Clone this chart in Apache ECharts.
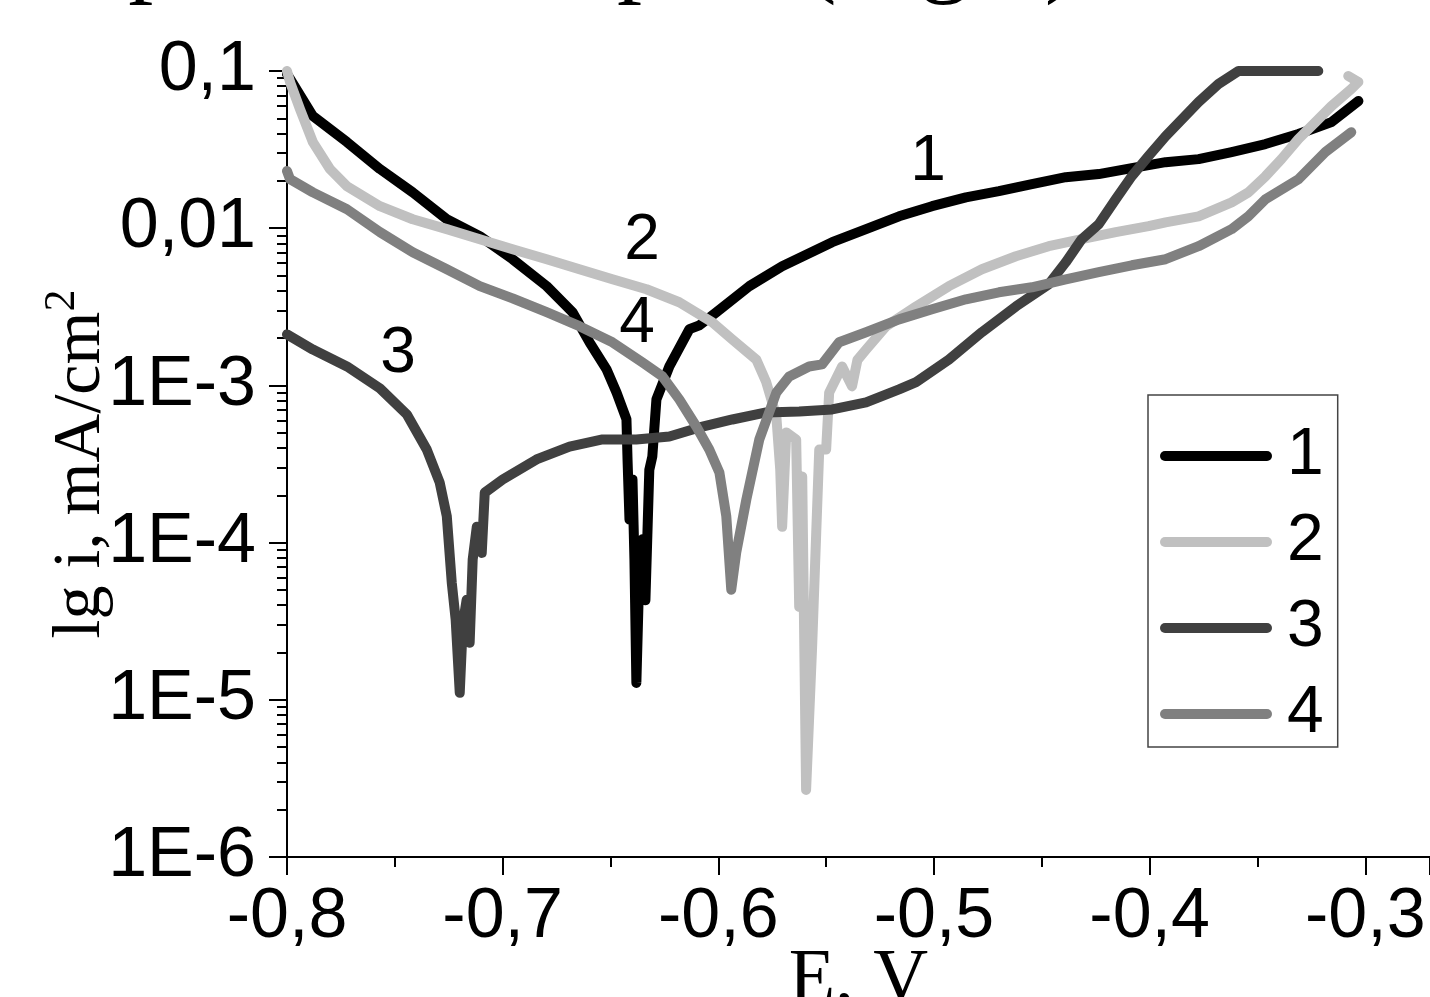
<!DOCTYPE html>
<html>
<head>
<meta charset="utf-8">
<title>lg i - E</title>
<script src="https://cdn.jsdelivr.net/npm/echarts@6/dist/echarts.min.js"></script>
<style>
html, body { margin: 0; padding: 0; background: #fff; }
#chart { width: 1430px; height: 997px; }
</style>
</head>
<body>
<div id="chart"></div>
<script>
// series names / colours
var curveNames = ['1', '2', '3', '4'];
var curveColors = ['#000000', '#c0c0c0', '#404040', '#808080'];

// [E, V ; i, mA/cm2]
var curve1 = [[-0.8,0.0957],[-0.7986,0.089],[-0.788,0.0517],[-0.7722,0.0353],[-0.7569,0.0238],[-0.7417,0.0169],
	[-0.7259,0.0114],[-0.7106,0.0089],[-0.6954,0.00635],[-0.6796,0.00428],[-0.6676,0.00292],[-0.6597,0.00188],
	[-0.6519,0.00127],[-0.6472,0.0009],[-0.6426,0.00061],[-0.6421,0.000338],[-0.6412,0.00014],[-0.6398,0.000252],
	[-0.6389,0.000078],[-0.638,0.0000128],[-0.6366,0.000067],[-0.6352,0.000105],[-0.6338,0.000043],[-0.632,0.00029],
	[-0.6306,0.000353],[-0.6287,0.000815],[-0.6227,0.00132],[-0.6134,0.00228],[-0.6088,0.00241],[-0.6009,0.00292],
	[-0.5856,0.00428],[-0.5704,0.00573],[-0.5472,0.00815],[-0.5315,0.00987],[-0.5162,0.0119],[-0.5009,0.0138],
	[-0.4852,0.0157],[-0.4699,0.0172],[-0.4546,0.0191],[-0.4389,0.0211],[-0.4236,0.0221],[-0.4083,0.0241],
	[-0.3926,0.0263],[-0.3773,0.0275],[-0.362,0.0305],[-0.3463,0.0343],[-0.331,0.0397],[-0.3157,0.0473],[-0.3032,0.0644]];

var curve2 = [[-0.8,0.1],[-0.7986,0.0851],[-0.794,0.0573],[-0.788,0.0353],[-0.7801,0.0238],[-0.7722,0.0185],
	[-0.7569,0.0138],[-0.7417,0.0114],[-0.7259,0.00986],[-0.7106,0.00851],[-0.6954,0.00735],[-0.6796,0.00635],
	[-0.6644,0.00548],[-0.6491,0.00473],[-0.6333,0.00409],[-0.6181,0.00338],[-0.6028,0.00252],[-0.5935,0.00196],
	[-0.5824,0.00146],[-0.5778,0.00105],[-0.5731,0.000635],[-0.5713,0.000292],[-0.5704,0.000126],[-0.5685,0.000502],
	[-0.5639,0.000453],[-0.5625,0.000039],[-0.5611,0.000263],[-0.5593,0.00000267],[-0.5565,0.0000218],[-0.5546,0.000116],
	[-0.5532,0.000391],[-0.55,0.000391],[-0.5486,0.0009],[-0.5426,0.00132],[-0.538,0.000986],[-0.5355,0.00145],
	[-0.5315,0.00169],[-0.5222,0.00238],[-0.5083,0.00318],[-0.4931,0.00428],[-0.4778,0.00548],[-0.462,0.00663],
	[-0.4468,0.00768],[-0.4315,0.00851],[-0.4157,0.00944],[-0.4005,0.0103],[-0.3926,0.0109],[-0.3773,0.0119],
	[-0.362,0.0146],[-0.3542,0.0169],[-0.3463,0.0214],[-0.3389,0.0275],[-0.331,0.0369],[-0.3231,0.0473],
	[-0.3157,0.0598],[-0.3065,0.0768],[-0.3032,0.0851],[-0.3079,0.0929]];

var curve3 = [[-0.8,0.00211],[-0.788,0.00169],[-0.7722,0.00132],[-0.7569,0.000957],[-0.7444,0.000653],[-0.7352,0.000391],
	[-0.7292,0.000241],[-0.7259,0.000147],[-0.7236,0.0000556],[-0.7218,0.0000324],[-0.7199,0.0000111],[-0.7185,0.00003],
	[-0.7167,0.0000433],[-0.7153,0.0000231],[-0.7139,0.000078],[-0.712,0.000126],[-0.7097,0.000086],[-0.7083,0.000208],
	[-0.7,0.000252],[-0.6843,0.000338],[-0.669,0.000408],[-0.6537,0.000453],[-0.638,0.000453],[-0.6227,0.000473],
	[-0.6088,0.00054],[-0.5935,0.000607],[-0.5778,0.000673],[-0.5625,0.000683],[-0.5472,0.000703],[-0.5315,0.000779],
	[-0.5162,0.000944],[-0.5083,0.00105],[-0.4931,0.00146],[-0.4778,0.00218],[-0.462,0.00318],[-0.4468,0.0044],
	[-0.4389,0.00607],[-0.4315,0.00851],[-0.4236,0.0106],[-0.4157,0.0153],[-0.4083,0.0214],[-0.4005,0.0288],
	[-0.3926,0.0385],[-0.3773,0.0635],[-0.3681,0.0826],[-0.3588,0.1],[-0.3218,0.1]];

var curve4 = [[-0.8,0.0231],[-0.7986,0.0205],[-0.788,0.0169],[-0.7722,0.0132],[-0.7569,0.00944],[-0.7417,0.00703],
	[-0.7259,0.00548],[-0.7106,0.00428],[-0.6954,0.00358],[-0.6796,0.00292],[-0.6644,0.00238],[-0.6491,0.00188],
	[-0.6352,0.0014],[-0.6259,0.00114],[-0.6181,0.000815],[-0.6102,0.000548],[-0.6042,0.000391],[-0.5995,0.000279],
	[-0.5963,0.000147],[-0.594,0.0000502],[-0.5917,0.0000863],[-0.587,0.000188],[-0.581,0.000453],[-0.5731,0.0009],
	[-0.5671,0.00114],[-0.5579,0.00132],[-0.5519,0.00136],[-0.544,0.00188],[-0.5315,0.00218],[-0.5162,0.00263],
	[-0.5009,0.00305],[-0.4852,0.00353],[-0.4699,0.00391],[-0.4546,0.00421],[-0.4389,0.00473],[-0.4236,0.00525],
	[-0.4083,0.00581],[-0.3926,0.00635],[-0.3773,0.00768],[-0.362,0.00986],[-0.3542,0.0119],[-0.3463,0.0153],
	[-0.331,0.0205],[-0.3185,0.0305],[-0.3065,0.0408]];

// where the numbers 1..4 sit next to the curves
var curveLabelPos = [[-0.5028,0.0263],[-0.6354,0.00826],[-0.7485,0.00157],[-0.6377,0.00245]];

// axis ticks
var xTickLabels = ['-0,8', '-0,7', '-0,6', '-0,5', '-0,4', '-0,3'];
var yMajorTicks = [1e-6, 1e-5, 1e-4, 1e-3, 0.01, 0.1];
var yTickLabels = ['1E-6', '1E-5', '1E-4', '1E-3', '0,01', '0,1'];

var xMin = -0.8, xMax = -0.27;

// log minor ticks 2..9 in every decade
var yMinorTicks = [];
for (var d = -6; d <= -2; d++) {
	for (var k = 2; k <= 9; k++) {
		yMinorTicks.push(Number((k * Math.pow(10, d)).toPrecision(3)));
	}
}

var sans = 'Liberation Sans';
var serif = 'Liberation Serif';
var tickStyle = { color: '#000', width: 2 };

var curves = [curve1, curve2, curve3, curve4];
var series = [];
for (var n = 0; n < curves.length; n++) {
	series.push({
		name: curveNames[n],
		type: 'line',
		data: curves[n],
		color: curveColors[n],
		showSymbol: false,
		symbol: 'none',
		clip: true,
		lineStyle: { color: curveColors[n], width: 10, cap: 'round', join: 'round' },
		markPoint: {
			symbol: 'circle',
			symbolSize: 0,
			label: { show: true, position: 'inside', formatter: curveNames[n], fontSize: 64, fontFamily: sans, color: '#000' },
			data: [{ coord: curveLabelPos[n] }]
		}
	});
}

var chart = echarts.init(document.getElementById('chart'));
var option = {
	animation: false,
	backgroundColor: '#fff',
	graphic: [{
		type: 'text',
		x: -380,
		y: 8,
		style: { text: 'Polarization plots of samples (Fig.3)', font: '100px "Liberation Serif"', fill: '#000', verticalAlign: 'bottom' }
	}],
	grid: { left: 287, top: 71, right: 0, bottom: 140, outerBoundsMode: 'none' },
	legend: {
		data: curveNames,
		orient: 'vertical',
		left: 1148,
		top: 395,
		padding: [28, 14, 0, 12],
		itemWidth: 112,
		itemHeight: 10,
		itemGap: 20,
		icon: 'path://M5,0H107A5,5,0,0,1,107,10H5A5,5,0,0,1,5,0Z',
		borderColor: '#444',
		borderWidth: 1.5,
		backgroundColor: '#fff',
		textStyle: { fontSize: 66, fontFamily: sans, color: '#000', lineHeight: 44, padding: [0, 0, 0, 10] }
	},
	xAxis: {
		type: 'value',
		min: xMin,
		max: xMax,
		interval: 0.1,
		name: 'E, V',
		nameLocation: 'middle',
		nameGap: 86,
		nameMoveOverlap: false,
		nameTextStyle: { fontFamily: serif, fontSize: 76, color: '#000' },
		axisLine: { onZero: false, lineStyle: tickStyle },
		axisTick: { length: 18, lineStyle: tickStyle },
		minorTick: { show: true, splitNumber: 2, length: 10, lineStyle: tickStyle },
		splitLine: { show: false },
		axisLabel: {
			margin: 26,
			fontSize: 70,
			fontFamily: sans,
			color: '#000',
			showMaxLabel: false,
			formatter: function (v) {
				var i = Math.round((v - xMin) / 0.1);
				if (Math.abs(xMin + i * 0.1 - v) > 1e-6) return '';
				return xTickLabels[i] || '';
			}
		}
	},
	yAxis: [{
		type: 'log',
		logBase: 10,
		min: 1e-6,
		max: 0.1,
		name: '{b|lg i, mA/cm}{s|2}',
		nameLocation: 'middle',
		nameGap: 179,
		nameMoveOverlap: false,
		nameTextStyle: {
			color: '#000',
			rich: {
				b: { fontFamily: serif, fontSize: 68, color: '#000', lineHeight: 68, padding: [14, 0, 0, 0] },
				s: { fontFamily: serif, fontSize: 44, color: '#000', lineHeight: 44, verticalAlign: 'top' }
			}
		},
		axisLine: { show: true, lineStyle: tickStyle },
		axisTick: { show: true, length: 18, lineStyle: tickStyle, customValues: yMajorTicks },
		splitLine: { show: false },
		axisLabel: {
			margin: 31,
			fontSize: 70,
			fontFamily: sans,
			color: '#000',
			customValues: yMajorTicks,
			formatter: function (v) {
				var e = Math.round(Math.log(v) / Math.LN10);
				return yTickLabels[e + 6] || '';
			}
		}
	}, {
		// only carries the minor log ticks
		type: 'log',
		logBase: 10,
		min: 1e-6,
		max: 0.1,
		position: 'left',
		axisLine: { show: false },
		axisLabel: { show: false },
		splitLine: { show: false },
		axisTick: { show: true, length: 10, lineStyle: tickStyle, customValues: yMinorTicks }
	}],
	series: series
};
chart.setOption(option);
window.addEventListener('resize', function () {
	chart.resize();
});
</script>
</body>
</html>
